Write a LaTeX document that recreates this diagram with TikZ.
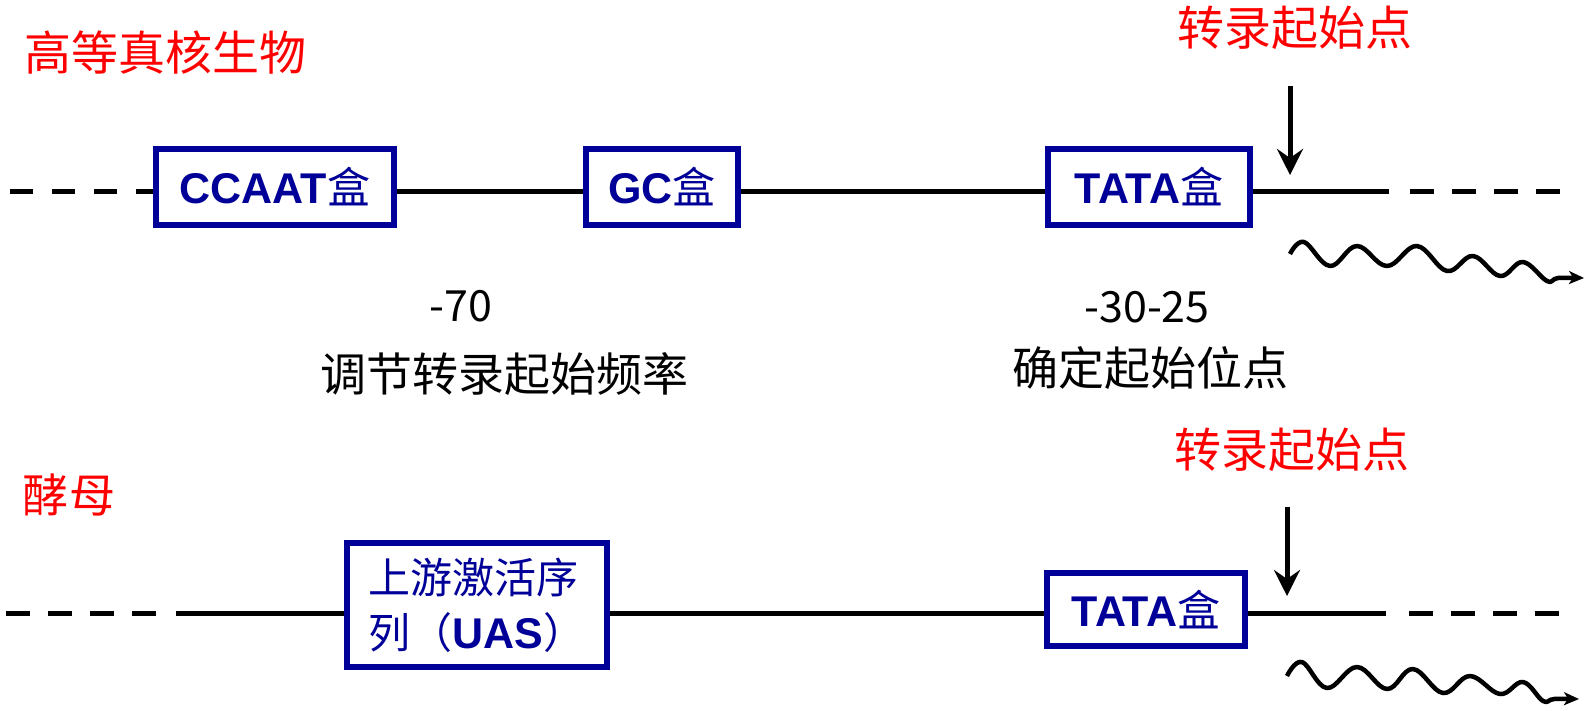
\documentclass[tikz,border=0pt]{standalone}
\usepackage{fontspec}
\setmainfont{Liberation Sans}
\newfontfamily\cjk{Noto Sans CJK SC}
\usetikzlibrary{arrows.meta}
\definecolor{boxblue}{RGB}{0,0,153}
\definecolor{titlered}{RGB}{255,0,0}
\begin{document}
\begin{tikzpicture}[x=1pt,y=-1pt,
  boxnode/.style={draw=boxblue, line width=6pt, fill=white, inner sep=0pt, text=boxblue},
  boxtext/.style={font=\fontsize{43}{46}\selectfont\bfseries},
  dnaline/.style={line width=5pt},
  dnadash/.style={line width=5pt, dash pattern=on 24pt off 18pt},
  startarrow/.style={line width=5pt, -{Stealth[length=26pt,width=26pt,inset=9pt]}},
  wave/.style={line width=4.5pt, line join=round, -{Stealth[length=15pt,width=13pt,inset=4pt]}},
  redtitle/.style={text=titlered, font=\cjk\fontsize{47}{50}\selectfont, inner sep=0pt},
  note/.style={font=\cjk\fontsize{46}{50}\selectfont, inner sep=0pt},
  num/.style={font=\cjk\fontsize{43}{46}\selectfont, inner sep=0pt}
]
\useasboundingbox (0,0) rectangle (1589,710);

% ---------- top row: higher eukaryotes ----------
\node[redtitle] (euk) at (165,53) {高等真核生物};
\node[redtitle] (tss1) at (1295,28) {转录起始点};

\coordinate (t0) at (10,191.5);
\coordinate (t1) at (1389,191.5);
\coordinate (t2) at (1410,191.5);
\coordinate (t3) at (1562,191.5);

\node[boxnode, boxtext, minimum width=238pt, minimum height=76pt] (ccaat) at (275,187) {CCAAT{\cjk\mdseries 盒}};
\node[boxnode, boxtext, minimum width=152pt, minimum height=76pt] (gc) at (662,187) {GC{\cjk\mdseries 盒}};
\node[boxnode, boxtext, minimum width=202pt, minimum height=76pt] (tata1) at (1149,187) {TATA{\cjk\mdseries 盒}};

\draw[dnadash, dash pattern=on 23pt off 19pt] (t0) -- (ccaat.west |- t0);
\draw[dnaline] (ccaat.east |- t0) -- (gc.west |- t0);
\draw[dnaline] (gc.east |- t0) -- (tata1.west |- t0);
\draw[dnaline] (tata1.east |- t0) -- (t1);
\draw[dnadash] (t2) -- (t3);

\coordinate (a1s) at (1290,86);
\coordinate (a1e) at (1290,175);
\draw[startarrow] (a1s) -- (a1e);

\coordinate (w1s) at (1290,254);
\draw[wave] plot[smooth, tension=0.65] coordinates {(w1s) (1304,242) (1330,266) (1357,246) (1387,266) (1417,246) (1447,271) (1473,256) (1500,276) (1523,262) (1547,281) (1558,278) (1584,278)};

\node[num] (n70) at (461,306) {-70};
\node[note] (freq) at (504,374) {调节转录起始频率};
\node[num] (n30) at (1147,307) {-30-25};
\node[note] (pos) at (1150,368) {确定起始位点};

% ---------- bottom row: yeast ----------
\node[redtitle, font=\cjk\fontsize{46}{50}\selectfont] (yeast) at (69,495) {酵母};
\node[redtitle] (tss2) at (1292,450) {转录起始点};

\coordinate (b0) at (6,613.5);
\coordinate (b1) at (157,613.5);
\coordinate (b2) at (176,613.5);
\coordinate (b3) at (1386,613.5);
\coordinate (b4) at (1409,613.5);
\coordinate (b5) at (1559,613.5);

\node[boxnode, minimum width=260pt, minimum height=124pt, align=left,
      font=\cjk\fontsize{42}{55}\selectfont] (uas) at (477,605)
      {上游激活序\\列（{\normalfont\fontsize{43}{55}\selectfont\bfseries UAS}）};
\node[boxnode, boxtext, minimum width=198pt, minimum height=73pt] (tata2) at (1146,609.5) {TATA{\cjk\mdseries 盒}};

\draw[dnadash] (b0) -- (b1);
\draw[dnaline] (b2) -- (uas.west |- b2);
\draw[dnaline] (uas.east |- b2) -- (tata2.west |- b2);
\draw[dnaline] (tata2.east |- b2) -- (b3);
\draw[dnadash] (b4) -- (b5);

\coordinate (a2s) at (1287,507);
\coordinate (a2e) at (1287,596);
\draw[startarrow] (a2s) -- (a2e);

\coordinate (w2s) at (1287,676);
\draw[wave] plot[smooth, tension=0.65] coordinates {(w2s) (1302,662) (1327,688) (1357,667) (1387,689) (1413,669) (1443,693) (1470,676) (1500,694) (1523,682) (1543,701) (1554,699) (1579,699)};
\end{tikzpicture}
\end{document}
